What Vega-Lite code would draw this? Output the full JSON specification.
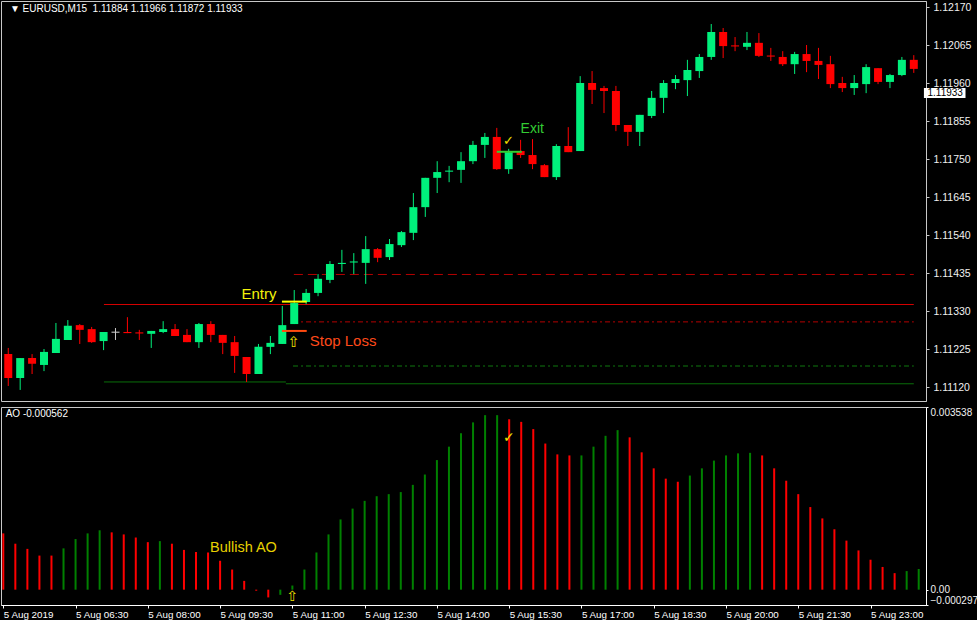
{
"$schema": "https://vega.github.io/schema/vega-lite/v6.json",
"background": "#000000",
"padding": 0,
"spacing": 4,
"resolve": {"scale": {"color": "independent"}},
"config": {
  "font": "Liberation Sans",
  "view": {"stroke": "#c8c8c8", "strokeWidth": 1},
  "axis": {"grid": false, "domainColor": "#c8c8c8", "tickColor": "#c8c8c8", "labelColor": "#f0f0f0", "labelFont": "Liberation Sans", "labelFontSize": 10.5, "labelOverlap": false}
},
"datasets": {
  "candles": [
    {"i":0,"o":1.11211,"h":1.11228,"l":1.11123,"c":1.11145,"d":"down"},
    {"i":1,"o":1.11145,"h":1.11200,"l":1.11112,"c":1.11200,"d":"up"},
    {"i":2,"o":1.11200,"h":1.11211,"l":1.11156,"c":1.11184,"d":"down"},
    {"i":3,"o":1.11181,"h":1.11225,"l":1.11164,"c":1.11217,"d":"up"},
    {"i":4,"o":1.11214,"h":1.11297,"l":1.11214,"c":1.11253,"d":"up"},
    {"i":5,"o":1.11250,"h":1.11305,"l":1.11250,"c":1.11289,"d":"up"},
    {"i":6,"o":1.11291,"h":1.11294,"l":1.11239,"c":1.11278,"d":"down"},
    {"i":7,"o":1.11280,"h":1.11286,"l":1.11242,"c":1.11244,"d":"down"},
    {"i":8,"o":1.11247,"h":1.11272,"l":1.11222,"c":1.11272,"d":"up"},
    {"i":9,"o":1.11273,"h":1.11283,"l":1.11250,"c":1.11270,"d":"flat"},
    {"i":10,"o":1.11272,"h":1.11313,"l":1.11269,"c":1.11269,"d":"down"},
    {"i":11,"o":1.11271,"h":1.11278,"l":1.11250,"c":1.11268,"d":"down"},
    {"i":12,"o":1.11267,"h":1.11275,"l":1.11228,"c":1.11275,"d":"up"},
    {"i":13,"o":1.11272,"h":1.11302,"l":1.11269,"c":1.11280,"d":"up"},
    {"i":14,"o":1.11280,"h":1.11294,"l":1.11261,"c":1.11261,"d":"down"},
    {"i":15,"o":1.11264,"h":1.11280,"l":1.11244,"c":1.11244,"d":"down"},
    {"i":16,"o":1.11244,"h":1.11297,"l":1.11228,"c":1.11294,"d":"up"},
    {"i":17,"o":1.11294,"h":1.11302,"l":1.11244,"c":1.11264,"d":"down"},
    {"i":18,"o":1.11264,"h":1.11264,"l":1.11211,"c":1.11242,"d":"down"},
    {"i":19,"o":1.11244,"h":1.11261,"l":1.11159,"c":1.11206,"d":"down"},
    {"i":20,"o":1.11203,"h":1.11203,"l":1.11134,"c":1.11156,"d":"down"},
    {"i":21,"o":1.11156,"h":1.11239,"l":1.11156,"c":1.11231,"d":"up"},
    {"i":22,"o":1.11231,"h":1.11261,"l":1.11211,"c":1.11242,"d":"up"},
    {"i":23,"o":1.11239,"h":1.11344,"l":1.11239,"c":1.11291,"d":"up"},
    {"i":24,"o":1.11294,"h":1.11388,"l":1.11294,"c":1.11352,"d":"up"},
    {"i":25,"o":1.11355,"h":1.11391,"l":1.11349,"c":1.11380,"d":"up"},
    {"i":26,"o":1.11380,"h":1.11432,"l":1.11371,"c":1.11419,"d":"up"},
    {"i":27,"o":1.11416,"h":1.11468,"l":1.11407,"c":1.11460,"d":"up"},
    {"i":28,"o":1.11460,"h":1.11499,"l":1.11438,"c":1.11463,"d":"up"},
    {"i":29,"o":1.11464,"h":1.11490,"l":1.11432,"c":1.11467,"d":"up"},
    {"i":30,"o":1.11463,"h":1.11537,"l":1.11405,"c":1.11501,"d":"up"},
    {"i":31,"o":1.11501,"h":1.11504,"l":1.11465,"c":1.11477,"d":"down"},
    {"i":32,"o":1.11479,"h":1.11529,"l":1.11471,"c":1.11515,"d":"up"},
    {"i":33,"o":1.11512,"h":1.11551,"l":1.11507,"c":1.11548,"d":"up"},
    {"i":34,"o":1.11546,"h":1.11656,"l":1.11526,"c":1.11617,"d":"up"},
    {"i":35,"o":1.11617,"h":1.11698,"l":1.11590,"c":1.11698,"d":"up"},
    {"i":36,"o":1.11698,"h":1.11744,"l":1.11656,"c":1.11714,"d":"up"},
    {"i":37,"o":1.11715,"h":1.11731,"l":1.11686,"c":1.11718,"d":"up"},
    {"i":38,"o":1.11720,"h":1.11769,"l":1.11684,"c":1.11744,"d":"up"},
    {"i":39,"o":1.11744,"h":1.11800,"l":1.11736,"c":1.11789,"d":"up"},
    {"i":40,"o":1.11789,"h":1.11822,"l":1.11753,"c":1.11811,"d":"up"},
    {"i":41,"o":1.11811,"h":1.11836,"l":1.11720,"c":1.11722,"d":"down"},
    {"i":42,"o":1.11722,"h":1.11778,"l":1.11709,"c":1.11769,"d":"up"},
    {"i":43,"o":1.11772,"h":1.11803,"l":1.11753,"c":1.11761,"d":"down"},
    {"i":44,"o":1.11761,"h":1.11805,"l":1.11722,"c":1.11736,"d":"down"},
    {"i":45,"o":1.11733,"h":1.11736,"l":1.11700,"c":1.11700,"d":"down"},
    {"i":46,"o":1.11700,"h":1.11791,"l":1.11692,"c":1.11786,"d":"up"},
    {"i":47,"o":1.11786,"h":1.11838,"l":1.11769,"c":1.11769,"d":"down"},
    {"i":48,"o":1.11772,"h":1.11979,"l":1.11772,"c":1.11960,"d":"up"},
    {"i":49,"o":1.11960,"h":1.11993,"l":1.11902,"c":1.11941,"d":"down"},
    {"i":50,"o":1.11946,"h":1.11952,"l":1.11877,"c":1.11938,"d":"down"},
    {"i":51,"o":1.11938,"h":1.11952,"l":1.11827,"c":1.11844,"d":"down"},
    {"i":52,"o":1.11844,"h":1.11844,"l":1.11786,"c":1.11825,"d":"down"},
    {"i":53,"o":1.11825,"h":1.11872,"l":1.11786,"c":1.11872,"d":"up"},
    {"i":54,"o":1.11869,"h":1.11938,"l":1.11863,"c":1.11919,"d":"up"},
    {"i":55,"o":1.11919,"h":1.11968,"l":1.11877,"c":1.11960,"d":"up"},
    {"i":56,"o":1.11960,"h":1.11982,"l":1.11943,"c":1.11971,"d":"up"},
    {"i":57,"o":1.11968,"h":1.12024,"l":1.11924,"c":1.11996,"d":"up"},
    {"i":58,"o":1.11993,"h":1.12040,"l":1.11974,"c":1.12032,"d":"up"},
    {"i":59,"o":1.12032,"h":1.12123,"l":1.12024,"c":1.12101,"d":"up"},
    {"i":60,"o":1.12101,"h":1.12112,"l":1.12029,"c":1.12062,"d":"down"},
    {"i":61,"o":1.12064,"h":1.12087,"l":1.12048,"c":1.12061,"d":"down"},
    {"i":62,"o":1.12060,"h":1.12101,"l":1.12051,"c":1.12071,"d":"up"},
    {"i":63,"o":1.12071,"h":1.12098,"l":1.12032,"c":1.12035,"d":"down"},
    {"i":64,"o":1.12036,"h":1.12057,"l":1.12021,"c":1.12033,"d":"down"},
    {"i":65,"o":1.12032,"h":1.12048,"l":1.12007,"c":1.12012,"d":"down"},
    {"i":66,"o":1.12012,"h":1.12046,"l":1.11985,"c":1.12040,"d":"up"},
    {"i":67,"o":1.12040,"h":1.12065,"l":1.11990,"c":1.12021,"d":"down"},
    {"i":68,"o":1.12021,"h":1.12057,"l":1.11971,"c":1.12010,"d":"down"},
    {"i":69,"o":1.12012,"h":1.12035,"l":1.11946,"c":1.11957,"d":"down"},
    {"i":70,"o":1.11960,"h":1.11977,"l":1.11935,"c":1.11946,"d":"down"},
    {"i":71,"o":1.11946,"h":1.11982,"l":1.11927,"c":1.11960,"d":"up"},
    {"i":72,"o":1.11957,"h":1.12012,"l":1.11932,"c":1.12004,"d":"up"},
    {"i":73,"o":1.12001,"h":1.12001,"l":1.11957,"c":1.11963,"d":"down"},
    {"i":74,"o":1.11963,"h":1.11985,"l":1.11946,"c":1.11982,"d":"up"},
    {"i":75,"o":1.11982,"h":1.12032,"l":1.11979,"c":1.12024,"d":"up"},
    {"i":76,"o":1.12024,"h":1.12037,"l":1.11988,"c":1.11999,"d":"down"}
  ],
  "ao": [
    {"i":0,"v":0.00109,"d":"down"},{"i":1,"v":0.00089,"d":"down"},{"i":2,"v":0.00079,"d":"down"},
    {"i":3,"v":0.00066,"d":"down"},{"i":4,"v":0.00066,"d":"down"},{"i":5,"v":0.00080,"d":"up"},
    {"i":6,"v":0.00098,"d":"up"},{"i":7,"v":0.00109,"d":"up"},{"i":8,"v":0.00115,"d":"up"},
    {"i":9,"v":0.00111,"d":"down"},{"i":10,"v":0.00107,"d":"down"},{"i":11,"v":0.00101,"d":"down"},
    {"i":12,"v":0.00092,"d":"down"},{"i":13,"v":0.00094,"d":"up"},{"i":14,"v":0.00089,"d":"down"},
    {"i":15,"v":0.00077,"d":"down"},{"i":16,"v":0.00073,"d":"down"},{"i":17,"v":0.00072,"d":"down"},
    {"i":18,"v":0.00056,"d":"down"},{"i":19,"v":0.00039,"d":"down"},{"i":20,"v":0.00017,"d":"down"},
    {"i":21,"v":-0.00002,"d":"down"},{"i":22,"v":-0.00015,"d":"down"},{"i":23,"v":-0.00010,"d":"up"},
    {"i":24,"v":0.00008,"d":"up"},{"i":25,"v":0.00039,"d":"up"},{"i":26,"v":0.00072,"d":"up"},
    {"i":27,"v":0.00107,"d":"up"},{"i":28,"v":0.00136,"d":"up"},{"i":29,"v":0.00157,"d":"up"},
    {"i":30,"v":0.00172,"d":"up"},{"i":31,"v":0.00181,"d":"up"},{"i":32,"v":0.00185,"d":"up"},
    {"i":33,"v":0.00189,"d":"up"},{"i":34,"v":0.00203,"d":"up"},{"i":35,"v":0.00223,"d":"up"},
    {"i":36,"v":0.00251,"d":"up"},{"i":37,"v":0.00277,"d":"up"},{"i":38,"v":0.00303,"d":"up"},
    {"i":39,"v":0.00324,"d":"up"},{"i":40,"v":0.00338,"d":"up"},{"i":41,"v":0.00338,"d":"up"},
    {"i":42,"v":0.00330,"d":"down"},{"i":43,"v":0.00325,"d":"down"},{"i":44,"v":0.00311,"d":"down"},
    {"i":45,"v":0.00283,"d":"down"},{"i":46,"v":0.00262,"d":"down"},{"i":47,"v":0.00260,"d":"down"},
    {"i":48,"v":0.00260,"d":"up"},{"i":49,"v":0.00277,"d":"up"},{"i":50,"v":0.00298,"d":"up"},
    {"i":51,"v":0.00309,"d":"up"},{"i":52,"v":0.00295,"d":"down"},{"i":53,"v":0.00266,"d":"down"},
    {"i":54,"v":0.00235,"d":"down"},{"i":55,"v":0.00215,"d":"down"},{"i":56,"v":0.00209,"d":"down"},
    {"i":57,"v":0.00221,"d":"up"},{"i":58,"v":0.00235,"d":"up"},{"i":59,"v":0.00250,"d":"up"},
    {"i":60,"v":0.00260,"d":"up"},{"i":61,"v":0.00264,"d":"up"},{"i":62,"v":0.00265,"d":"up"},
    {"i":63,"v":0.00260,"d":"down"},{"i":64,"v":0.00235,"d":"down"},{"i":65,"v":0.00211,"d":"down"},
    {"i":66,"v":0.00185,"d":"down"},{"i":67,"v":0.00160,"d":"down"},{"i":68,"v":0.00138,"d":"down"},
    {"i":69,"v":0.00117,"d":"down"},{"i":70,"v":0.00095,"d":"down"},{"i":71,"v":0.00076,"d":"down"},
    {"i":72,"v":0.00058,"d":"down"},{"i":73,"v":0.00044,"d":"down"},{"i":74,"v":0.00032,"d":"down"},
    {"i":75,"v":0.00036,"d":"up"},{"i":76,"v":0.00040,"d":"up"}
  ]
},
"vconcat": [
  {
    "width": 925,
    "height": 400,
    "layer": [
      {
        "data": {"values": [{"x1": 8.03, "x2": 76.0, "p": 1.11348}]},
        "mark": {"type": "rule", "color": "#d40000", "strokeWidth": 1},
        "encoding": {
          "x": {"field": "x1", "type": "quantitative", "scale": {"domain": [-0.19, 76.605], "nice": false, "zero": false}, "axis": null},
          "x2": {"field": "x2"},
          "y": {"field": "p", "type": "quantitative", "scale": {"domain": [1.110814, 1.121866], "nice": false, "zero": false}, "axis": {"orient": "right", "title": null, "values": [1.1217, 1.12065, 1.1196, 1.11855, 1.1175, 1.11645, 1.1154, 1.11435, 1.1133, 1.11225, 1.1112], "format": ".5f", "tickSize": 3, "labelPadding": 4}}
        }
      },
      {
        "data": {"values": [{"x1": 8.03, "x2": 23.3, "p": 1.11134}, {"x1": 23.3, "x2": 76.0, "p": 1.11129}]},
        "mark": {"type": "rule", "color": "#0a6e0a", "strokeWidth": 1},
        "encoding": {
          "x": {"field": "x1", "type": "quantitative", "scale": {"domain": [-0.19, 76.605], "nice": false, "zero": false}, "axis": null},
          "x2": {"field": "x2"},
          "y": {"field": "p", "type": "quantitative", "scale": {"domain": [1.110814, 1.121866], "nice": false, "zero": false}, "axis": {"orient": "right", "title": null, "values": [1.1217, 1.12065, 1.1196, 1.11855, 1.1175, 1.11645, 1.1154, 1.11435, 1.1133, 1.11225, 1.1112], "format": ".5f", "tickSize": 3, "labelPadding": 4}}
        }
      },
      {
        "data": {"values": [{"x1": 23.97, "x2": 76.0, "p": 1.11431}]},
        "mark": {"type": "rule", "color": "#b40000", "strokeWidth": 1, "strokeDash": [9, 5]},
        "encoding": {
          "x": {"field": "x1", "type": "quantitative", "scale": {"domain": [-0.19, 76.605], "nice": false, "zero": false}, "axis": null},
          "x2": {"field": "x2"},
          "y": {"field": "p", "type": "quantitative", "scale": {"domain": [1.110814, 1.121866], "nice": false, "zero": false}, "axis": {"orient": "right", "title": null, "values": [1.1217, 1.12065, 1.1196, 1.11855, 1.1175, 1.11645, 1.1154, 1.11435, 1.1133, 1.11225, 1.1112], "format": ".5f", "tickSize": 3, "labelPadding": 4}}
        }
      },
      {
        "data": {"values": [{"x1": 23.9, "x2": 76.0, "p": 1.11300}]},
        "mark": {"type": "rule", "color": "#b40000", "strokeWidth": 1, "strokeDash": [5, 3, 2, 3]},
        "encoding": {
          "x": {"field": "x1", "type": "quantitative", "scale": {"domain": [-0.19, 76.605], "nice": false, "zero": false}, "axis": null},
          "x2": {"field": "x2"},
          "y": {"field": "p", "type": "quantitative", "scale": {"domain": [1.110814, 1.121866], "nice": false, "zero": false}, "axis": {"orient": "right", "title": null, "values": [1.1217, 1.12065, 1.1196, 1.11855, 1.1175, 1.11645, 1.1154, 1.11435, 1.1133, 1.11225, 1.1112], "format": ".5f", "tickSize": 3, "labelPadding": 4}}
        }
      },
      {
        "data": {"values": [{"x1": 23.9, "x2": 76.0, "p": 1.11178}]},
        "mark": {"type": "rule", "color": "#0a500a", "strokeWidth": 1.5, "strokeDash": [5, 3, 2, 3]},
        "encoding": {
          "x": {"field": "x1", "type": "quantitative", "scale": {"domain": [-0.19, 76.605], "nice": false, "zero": false}, "axis": null},
          "x2": {"field": "x2"},
          "y": {"field": "p", "type": "quantitative", "scale": {"domain": [1.110814, 1.121866], "nice": false, "zero": false}, "axis": {"orient": "right", "title": null, "values": [1.1217, 1.12065, 1.1196, 1.11855, 1.1175, 1.11645, 1.1154, 1.11435, 1.1133, 1.11225, 1.1112], "format": ".5f", "tickSize": 3, "labelPadding": 4}}
        }
      },
      {
        "data": {"name": "candles"},
        "mark": {"type": "rule", "strokeWidth": 1},
        "encoding": {
          "x": {"field": "i", "type": "quantitative", "scale": {"domain": [-0.19, 76.605], "nice": false, "zero": false}, "axis": null},
          "y": {"field": "l", "type": "quantitative", "scale": {"domain": [1.110814, 1.121866], "nice": false, "zero": false}, "axis": {"orient": "right", "title": null, "values": [1.1217, 1.12065, 1.1196, 1.11855, 1.1175, 1.11645, 1.1154, 1.11435, 1.1133, 1.11225, 1.1112], "format": ".5f", "tickSize": 3, "labelPadding": 4}},
          "y2": {"field": "h"},
          "color": {"field": "d", "type": "nominal", "scale": {"domain": ["up", "down", "flat"], "range": ["#00f07c", "#ff0000", "#c8c8c8"]}, "legend": null}
        }
      },
      {
        "data": {"name": "candles"},
        "mark": {"type": "bar", "width": 8},
        "encoding": {
          "x": {"field": "i", "type": "quantitative", "scale": {"domain": [-0.19, 76.605], "nice": false, "zero": false}, "axis": null},
          "y": {"field": "o", "type": "quantitative", "scale": {"domain": [1.110814, 1.121866], "nice": false, "zero": false}, "axis": {"orient": "right", "title": null, "values": [1.1217, 1.12065, 1.1196, 1.11855, 1.1175, 1.11645, 1.1154, 1.11435, 1.1133, 1.11225, 1.1112], "format": ".5f", "tickSize": 3, "labelPadding": 4}},
          "y2": {"field": "c"},
          "color": {"field": "d", "type": "nominal", "scale": {"domain": ["up", "down", "flat"], "range": ["#00f07c", "#ff0000", "#c8c8c8"]}, "legend": null}
        }
      },
      {
        "data": {"values": [{"x1": 22.97, "x2": 25.05, "p": 1.11356}]},
        "mark": {"type": "rule", "color": "#ffff00", "strokeWidth": 2},
        "encoding": {
          "x": {"field": "x1", "type": "quantitative", "scale": {"domain": [-0.19, 76.605], "nice": false, "zero": false}, "axis": null},
          "x2": {"field": "x2"},
          "y": {"field": "p", "type": "quantitative", "scale": {"domain": [1.110814, 1.121866], "nice": false, "zero": false}, "axis": {"orient": "right", "title": null, "values": [1.1217, 1.12065, 1.1196, 1.11855, 1.1175, 1.11645, 1.1154, 1.11435, 1.1133, 1.11225, 1.1112], "format": ".5f", "tickSize": 3, "labelPadding": 4}}
        }
      },
      {
        "data": {"values": [{"x1": 22.97, "x2": 25.05, "p": 1.11275}]},
        "mark": {"type": "rule", "color": "#ff4a10", "strokeWidth": 2},
        "encoding": {
          "x": {"field": "x1", "type": "quantitative", "scale": {"domain": [-0.19, 76.605], "nice": false, "zero": false}, "axis": null},
          "x2": {"field": "x2"},
          "y": {"field": "p", "type": "quantitative", "scale": {"domain": [1.110814, 1.121866], "nice": false, "zero": false}, "axis": {"orient": "right", "title": null, "values": [1.1217, 1.12065, 1.1196, 1.11855, 1.1175, 1.11645, 1.1154, 1.11435, 1.1133, 1.11225, 1.1112], "format": ".5f", "tickSize": 3, "labelPadding": 4}}
        }
      },
      {
        "data": {"values": [{"x1": 41.0, "x2": 43.1, "p": 1.11770}]},
        "mark": {"type": "rule", "color": "#33cc33", "strokeWidth": 2},
        "encoding": {
          "x": {"field": "x1", "type": "quantitative", "scale": {"domain": [-0.19, 76.605], "nice": false, "zero": false}, "axis": null},
          "x2": {"field": "x2"},
          "y": {"field": "p", "type": "quantitative", "scale": {"domain": [1.110814, 1.121866], "nice": false, "zero": false}, "axis": {"orient": "right", "title": null, "values": [1.1217, 1.12065, 1.1196, 1.11855, 1.1175, 1.11645, 1.1154, 1.11435, 1.1133, 1.11225, 1.1112], "format": ".5f", "tickSize": 3, "labelPadding": 4}}
        }
      },
      {
        "data": {"values": [{"i": 0.14, "p": 1.121645, "t": "▼ EURUSD,M15\u00a0\u00a01.11884 1.11966 1.11872 1.11933"}]},
        "mark": {"type": "text", "align": "left", "baseline": "middle", "color": "#ffffff", "fontSize": 10},
        "encoding": {
          "x": {"field": "i", "type": "quantitative", "scale": {"domain": [-0.19, 76.605], "nice": false, "zero": false}, "axis": null},
          "y": {"field": "p", "type": "quantitative", "scale": {"domain": [1.110814, 1.121866], "nice": false, "zero": false}, "axis": {"orient": "right", "title": null, "values": [1.1217, 1.12065, 1.1196, 1.11855, 1.1175, 1.11645, 1.1154, 1.11435, 1.1133, 1.11225, 1.1112], "format": ".5f", "tickSize": 3, "labelPadding": 4}},
          "text": {"field": "t"}
        }
      },
      {
        "data": {"values": [{"i": 19.57, "p": 1.11377, "t": "Entry"}]},
        "mark": {"type": "text", "align": "left", "baseline": "middle", "color": "#f2f20a", "fontSize": 15},
        "encoding": {
          "x": {"field": "i", "type": "quantitative", "scale": {"domain": [-0.19, 76.605], "nice": false, "zero": false}, "axis": null},
          "y": {"field": "p", "type": "quantitative", "scale": {"domain": [1.110814, 1.121866], "nice": false, "zero": false}, "axis": {"orient": "right", "title": null, "values": [1.1217, 1.12065, 1.1196, 1.11855, 1.1175, 1.11645, 1.1154, 1.11435, 1.1133, 1.11225, 1.1112], "format": ".5f", "tickSize": 3, "labelPadding": 4}},
          "text": {"field": "t"}
        }
      },
      {
        "data": {"values": [{"i": 25.3, "p": 1.11247, "t": "Stop Loss"}]},
        "mark": {"type": "text", "align": "left", "baseline": "middle", "color": "#ff4a1a", "fontSize": 15},
        "encoding": {
          "x": {"field": "i", "type": "quantitative", "scale": {"domain": [-0.19, 76.605], "nice": false, "zero": false}, "axis": null},
          "y": {"field": "p", "type": "quantitative", "scale": {"domain": [1.110814, 1.121866], "nice": false, "zero": false}, "axis": {"orient": "right", "title": null, "values": [1.1217, 1.12065, 1.1196, 1.11855, 1.1175, 1.11645, 1.1154, 1.11435, 1.1133, 1.11225, 1.1112], "format": ".5f", "tickSize": 3, "labelPadding": 4}},
          "text": {"field": "t"}
        }
      },
      {
        "data": {"values": [{"i": 43.0, "p": 1.11833, "t": "Exit"}]},
        "mark": {"type": "text", "align": "left", "baseline": "middle", "color": "#33cc33", "fontSize": 14},
        "encoding": {
          "x": {"field": "i", "type": "quantitative", "scale": {"domain": [-0.19, 76.605], "nice": false, "zero": false}, "axis": null},
          "y": {"field": "p", "type": "quantitative", "scale": {"domain": [1.110814, 1.121866], "nice": false, "zero": false}, "axis": {"orient": "right", "title": null, "values": [1.1217, 1.12065, 1.1196, 1.11855, 1.1175, 1.11645, 1.1154, 1.11435, 1.1133, 1.11225, 1.1112], "format": ".5f", "tickSize": 3, "labelPadding": 4}},
          "text": {"field": "t"}
        }
      },
      {
        "data": {"values": [{"i": 41.98, "p": 1.11800, "t": "✓"}]},
        "mark": {"type": "text", "align": "center", "baseline": "middle", "font": "DejaVu Sans", "fontSize": 13, "color": "#f0e000"},
        "encoding": {
          "x": {"field": "i", "type": "quantitative", "scale": {"domain": [-0.19, 76.605], "nice": false, "zero": false}, "axis": null},
          "y": {"field": "p", "type": "quantitative", "scale": {"domain": [1.110814, 1.121866], "nice": false, "zero": false}, "axis": {"orient": "right", "title": null, "values": [1.1217, 1.12065, 1.1196, 1.11855, 1.1175, 1.11645, 1.1154, 1.11435, 1.1133, 1.11225, 1.1112], "format": ".5f", "tickSize": 3, "labelPadding": 4}},
          "text": {"field": "t"}
        }
      },
      {
        "data": {"values": [{"i": 23.97, "p": 1.11244, "t": "⇧"}]},
        "mark": {"type": "text", "align": "center", "baseline": "middle", "font": "DejaVu Sans", "fontSize": 15, "color": "#f0e000"},
        "encoding": {
          "x": {"field": "i", "type": "quantitative", "scale": {"domain": [-0.19, 76.605], "nice": false, "zero": false}, "axis": null},
          "y": {"field": "p", "type": "quantitative", "scale": {"domain": [1.110814, 1.121866], "nice": false, "zero": false}, "axis": {"orient": "right", "title": null, "values": [1.1217, 1.12065, 1.1196, 1.11855, 1.1175, 1.11645, 1.1154, 1.11435, 1.1133, 1.11225, 1.1112], "format": ".5f", "tickSize": 3, "labelPadding": 4}},
          "text": {"field": "t"}
        }
      },
      {
        "data": {"values": [{"x1": 76.85, "x2": 80.34, "p": 1.119462, "p2": 1.119186}]},
        "mark": {"type": "rect", "color": "#ffffff"},
        "encoding": {
          "x": {"field": "x1", "type": "quantitative", "scale": {"domain": [-0.19, 76.605], "nice": false, "zero": false}, "axis": null},
          "x2": {"field": "x2"},
          "y": {"field": "p", "type": "quantitative", "scale": {"domain": [1.110814, 1.121866], "nice": false, "zero": false}, "axis": {"orient": "right", "title": null, "values": [1.1217, 1.12065, 1.1196, 1.11855, 1.1175, 1.11645, 1.1154, 1.11435, 1.1133, 1.11225, 1.1112], "format": ".5f", "tickSize": 3, "labelPadding": 4}},
          "y2": {"field": "p2"}
        }
      },
      {
        "data": {"values": [{"i": 77.15, "p": 1.11932, "t": "1.11933"}]},
        "mark": {"type": "text", "align": "left", "baseline": "middle", "color": "#000000", "fontSize": 10},
        "encoding": {
          "x": {"field": "i", "type": "quantitative", "scale": {"domain": [-0.19, 76.605], "nice": false, "zero": false}, "axis": null},
          "y": {"field": "p", "type": "quantitative", "scale": {"domain": [1.110814, 1.121866], "nice": false, "zero": false}, "axis": {"orient": "right", "title": null, "values": [1.1217, 1.12065, 1.1196, 1.11855, 1.1175, 1.11645, 1.1154, 1.11435, 1.1133, 1.11225, 1.1112], "format": ".5f", "tickSize": 3, "labelPadding": 4}},
          "text": {"field": "t"}
        }
      }
    ]
  },
  {
    "width": 925,
    "height": 198,
    "layer": [
      {
        "data": {"name": "ao"},
        "mark": {"type": "rule", "strokeWidth": 2},
        "encoding": {
          "x": {"field": "i", "type": "quantitative", "scale": {"domain": [-0.19, 76.605], "nice": false, "zero": false},
                "axis": {"orient": "bottom", "title": null, "values": [0, 6, 12, 18, 24, 30, 36, 42, 48, 54, 60, 66, 72], "labelExpr": "['5 Aug 2019','5 Aug 06:30','5 Aug 08:00','5 Aug 09:30','5 Aug 11:00','5 Aug 12:30','5 Aug 14:00','5 Aug 15:30','5 Aug 17:00','5 Aug 18:30','5 Aug 20:00','5 Aug 21:30','5 Aug 23:00'][round(datum.value/6)]", "labelAlign": "left", "labelBaseline": "top", "labelFontSize": 9.8, "tickSize": 3, "labelPadding": 1, "domainColor": "#ffffff", "tickColor": "#ffffff", "labelColor": "#ffffff", "labelBound": false, "labelFlush": false}},
          "y": {"field": "v", "type": "quantitative", "scale": {"domain": [-0.000297, 0.003538], "nice": false, "zero": false},
                "axis": {"orient": "right", "title": null, "values": [0.003538, 0, -0.000297], "labelExpr": "datum.value == 0 ? '0.00' : format(datum.value, '.6f')", "labelBaseline": {"condition": {"test": "datum.value > 0.003", "value": "top"}, "value": "middle"}, "labelOffset": {"condition": {"test": "datum.value < 0", "value": -5}, "value": 0}, "labelFontSize": 10, "tickSize": 2, "labelPadding": 2, "domainColor": "#ffffff", "tickColor": "#ffffff"}},
          "y2": {"datum": 0},
          "color": {"field": "d", "type": "nominal", "scale": {"domain": ["up", "down"], "range": ["#008000", "#ff0000"]}, "legend": null}
        }
      },
      {
        "data": {"values": [{"i": 0.2, "v": 0.003403, "t": "AO -0.000562"}]},
        "mark": {"type": "text", "align": "left", "baseline": "middle", "color": "#ffffff", "fontSize": 10},
        "encoding": {
          "x": {"field": "i", "type": "quantitative", "scale": {"domain": [-0.19, 76.605], "nice": false, "zero": false},
                "axis": {"orient": "bottom", "title": null, "values": [0, 6, 12, 18, 24, 30, 36, 42, 48, 54, 60, 66, 72], "labelExpr": "['5 Aug 2019','5 Aug 06:30','5 Aug 08:00','5 Aug 09:30','5 Aug 11:00','5 Aug 12:30','5 Aug 14:00','5 Aug 15:30','5 Aug 17:00','5 Aug 18:30','5 Aug 20:00','5 Aug 21:30','5 Aug 23:00'][round(datum.value/6)]", "labelAlign": "left", "labelBaseline": "top", "labelFontSize": 9.8, "tickSize": 3, "labelPadding": 1, "domainColor": "#ffffff", "tickColor": "#ffffff", "labelColor": "#ffffff", "labelBound": false, "labelFlush": false}},
          "y": {"field": "v", "type": "quantitative", "scale": {"domain": [-0.000297, 0.003538], "nice": false, "zero": false},
                "axis": {"orient": "right", "title": null, "values": [0.003538, 0, -0.000297], "labelExpr": "datum.value == 0 ? '0.00' : format(datum.value, '.6f')", "labelBaseline": {"condition": {"test": "datum.value > 0.003", "value": "top"}, "value": "middle"}, "labelOffset": {"condition": {"test": "datum.value < 0", "value": -5}, "value": 0}, "labelFontSize": 10, "tickSize": 2, "labelPadding": 2, "domainColor": "#ffffff", "tickColor": "#ffffff"}},
          "text": {"field": "t"}
        }
      },
      {
        "data": {"values": [{"i": 17.16, "v": 0.000808, "t": "Bullish AO"}]},
        "mark": {"type": "text", "align": "left", "baseline": "middle", "color": "#e8d000", "fontSize": 14.5},
        "encoding": {
          "x": {"field": "i", "type": "quantitative", "scale": {"domain": [-0.19, 76.605], "nice": false, "zero": false},
                "axis": {"orient": "bottom", "title": null, "values": [0, 6, 12, 18, 24, 30, 36, 42, 48, 54, 60, 66, 72], "labelExpr": "['5 Aug 2019','5 Aug 06:30','5 Aug 08:00','5 Aug 09:30','5 Aug 11:00','5 Aug 12:30','5 Aug 14:00','5 Aug 15:30','5 Aug 17:00','5 Aug 18:30','5 Aug 20:00','5 Aug 21:30','5 Aug 23:00'][round(datum.value/6)]", "labelAlign": "left", "labelBaseline": "top", "labelFontSize": 9.8, "tickSize": 3, "labelPadding": 1, "domainColor": "#ffffff", "tickColor": "#ffffff", "labelColor": "#ffffff", "labelBound": false, "labelFlush": false}},
          "y": {"field": "v", "type": "quantitative", "scale": {"domain": [-0.000297, 0.003538], "nice": false, "zero": false},
                "axis": {"orient": "right", "title": null, "values": [0.003538, 0, -0.000297], "labelExpr": "datum.value == 0 ? '0.00' : format(datum.value, '.6f')", "labelBaseline": {"condition": {"test": "datum.value > 0.003", "value": "top"}, "value": "middle"}, "labelOffset": {"condition": {"test": "datum.value < 0", "value": -5}, "value": 0}, "labelFontSize": 10, "tickSize": 2, "labelPadding": 2, "domainColor": "#ffffff", "tickColor": "#ffffff"}},
          "text": {"field": "t"}
        }
      },
      {
        "data": {"values": [{"i": 41.98, "v": 0.00294, "t": "✓", "s": "check"}, {"i": 23.97, "v": -0.000141, "t": "⇧", "s": "arrow"}]},
        "mark": {"type": "text", "align": "center", "baseline": "middle", "color": "#f0e000", "fontSize": 14, "font": "DejaVu Sans"},
        "encoding": {
          "x": {"field": "i", "type": "quantitative", "scale": {"domain": [-0.19, 76.605], "nice": false, "zero": false},
                "axis": {"orient": "bottom", "title": null, "values": [0, 6, 12, 18, 24, 30, 36, 42, 48, 54, 60, 66, 72], "labelExpr": "['5 Aug 2019','5 Aug 06:30','5 Aug 08:00','5 Aug 09:30','5 Aug 11:00','5 Aug 12:30','5 Aug 14:00','5 Aug 15:30','5 Aug 17:00','5 Aug 18:30','5 Aug 20:00','5 Aug 21:30','5 Aug 23:00'][round(datum.value/6)]", "labelAlign": "left", "labelBaseline": "top", "labelFontSize": 9.8, "tickSize": 3, "labelPadding": 1, "domainColor": "#ffffff", "tickColor": "#ffffff", "labelColor": "#ffffff", "labelBound": false, "labelFlush": false}},
          "y": {"field": "v", "type": "quantitative", "scale": {"domain": [-0.000297, 0.003538], "nice": false, "zero": false},
                "axis": {"orient": "right", "title": null, "values": [0.003538, 0, -0.000297], "labelExpr": "datum.value == 0 ? '0.00' : format(datum.value, '.6f')", "labelBaseline": {"condition": {"test": "datum.value > 0.003", "value": "top"}, "value": "middle"}, "labelOffset": {"condition": {"test": "datum.value < 0", "value": -5}, "value": 0}, "labelFontSize": 10, "tickSize": 2, "labelPadding": 2, "domainColor": "#ffffff", "tickColor": "#ffffff"}},
          "text": {"field": "t"}
        }
      }
    ]
  }
]
}
